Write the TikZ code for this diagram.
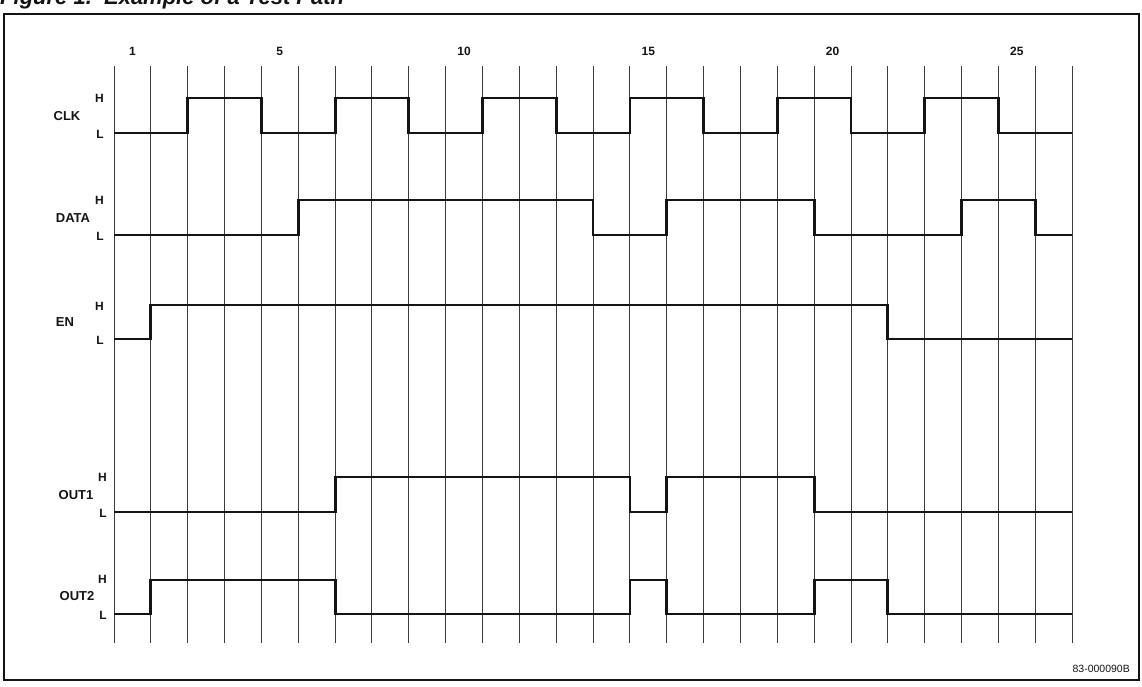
\documentclass[tikz,border=0pt]{standalone}
\usepackage{fontspec}
\setmainfont{Liberation Sans}
\usepackage{tikz}
\usetikzlibrary{positioning}
\definecolor{tpInk}{RGB}{20,20,20}
\definecolor{tpGridGray}{RGB}{60,60,60}
\tikzset{
  tpFrame/.style={
    draw=tpInk,
    line width=1.4pt
  },
  tpGrid/.style={
    draw=tpGridGray,
    line width=1pt
  },
  tpWave/.style={
    draw=tpInk,
    line width=2.8pt,
    line join=miter
  },
  tpName/.style={
    font=\fontsize{13}{15}\selectfont\bfseries,
    text=tpInk,
    inner sep=0pt
  },
  tpLevel/.style={
    font=\fontsize{12}{14}\selectfont\bfseries,
    text=tpInk,
    inner sep=0pt,
    anchor=east
  },
  tpTick/.style={
    font=\fontsize{12}{14}\selectfont\bfseries,
    text=tpInk,
    inner sep=0pt
  },
  tpTitle/.style={
    font=\fontsize{22}{24}\selectfont\bfseries\itshape,
    text=tpInk,
    inner sep=0pt,
    anchor=base west
  },
  tpCode/.style={
    font=\fontsize{10.5}{12}\selectfont,
    text=tpInk,
    inner sep=0pt,
    anchor=east
  }
}

\begin{document}
\begin{tikzpicture}[x=1pt, y=-1pt]
  \useasboundingbox (0,0) rectangle (1142,686);

  \node[tpTitle] (title) at (0,4) {Figure 1.\ \ Example of a Test Path};
  \draw[tpFrame] (4,14) rectangle (1139,680);
  \node[tpCode] (code) at (1130,669) {83-000090B};

  % signal names and levels
  \node[tpName] (clk) at (67,116) {CLK};
  \node[tpLevel] (clkH) at (104,98) {H};
  \node[tpLevel] (clkL) at (104,134) {L};

  \node[tpName] (data) at (73,218) {DATA};
  \node[tpLevel] (dataH) at (104,200) {H};
  \node[tpLevel] (dataL) at (104,236) {L};

  \node[tpName] (en) at (65,322) {EN};
  \node[tpLevel] (enH) at (104,306) {H};
  \node[tpLevel] (enL) at (104,340) {L};

  \node[tpName] (outA) at (76,495) {OUT1};
  \node[tpLevel] (outAH) at (107,477) {H};
  \node[tpLevel] (outAL) at (107,513) {L};

  \node[tpName] (outB) at (77,596) {OUT2};
  \node[tpLevel] (outBH) at (107,579) {H};
  \node[tpLevel] (outBL) at (107,615) {L};

  \begin{scope}[xshift=114pt, x=36.85pt]
    % time grid
    \foreach \i in {0,...,26}
      \draw[tpGrid] (\i,66) -- (\i,643);
    \foreach \n in {1,5,10,15,20,25}
      \node[tpTick] (tick\n) at (\n-0.5,51) {\n};

    % waveforms
    \draw[tpWave] (0,133) -| (2,98) -| (4,133) -| (6,98) -| (8,133)
      -| (10,98) -| (12,133) -| (14,98) -| (16,133) -| (18,98)
      -| (20,133) -| (22,98) -| (24,133) -- (26,133);
    \draw[tpWave] (0,235) -| (5,200) -| (13,235) -| (15,200)
      -| (19,235) -| (23,200) -| (25,235) -- (26,235);
    \draw[tpWave] (0,339) -| (1,305) -| (21,339) -- (26,339);
    \draw[tpWave] (0,512) -| (6,477) -| (14,512) -| (15,477)
      -| (19,512) -- (26,512);
    \draw[tpWave] (0,614) -| (1,580) -| (6,614) -| (14,580)
      -| (15,614) -| (19,580) -| (21,614) -- (26,614);
  \end{scope}
\end{tikzpicture}
\end{document}
